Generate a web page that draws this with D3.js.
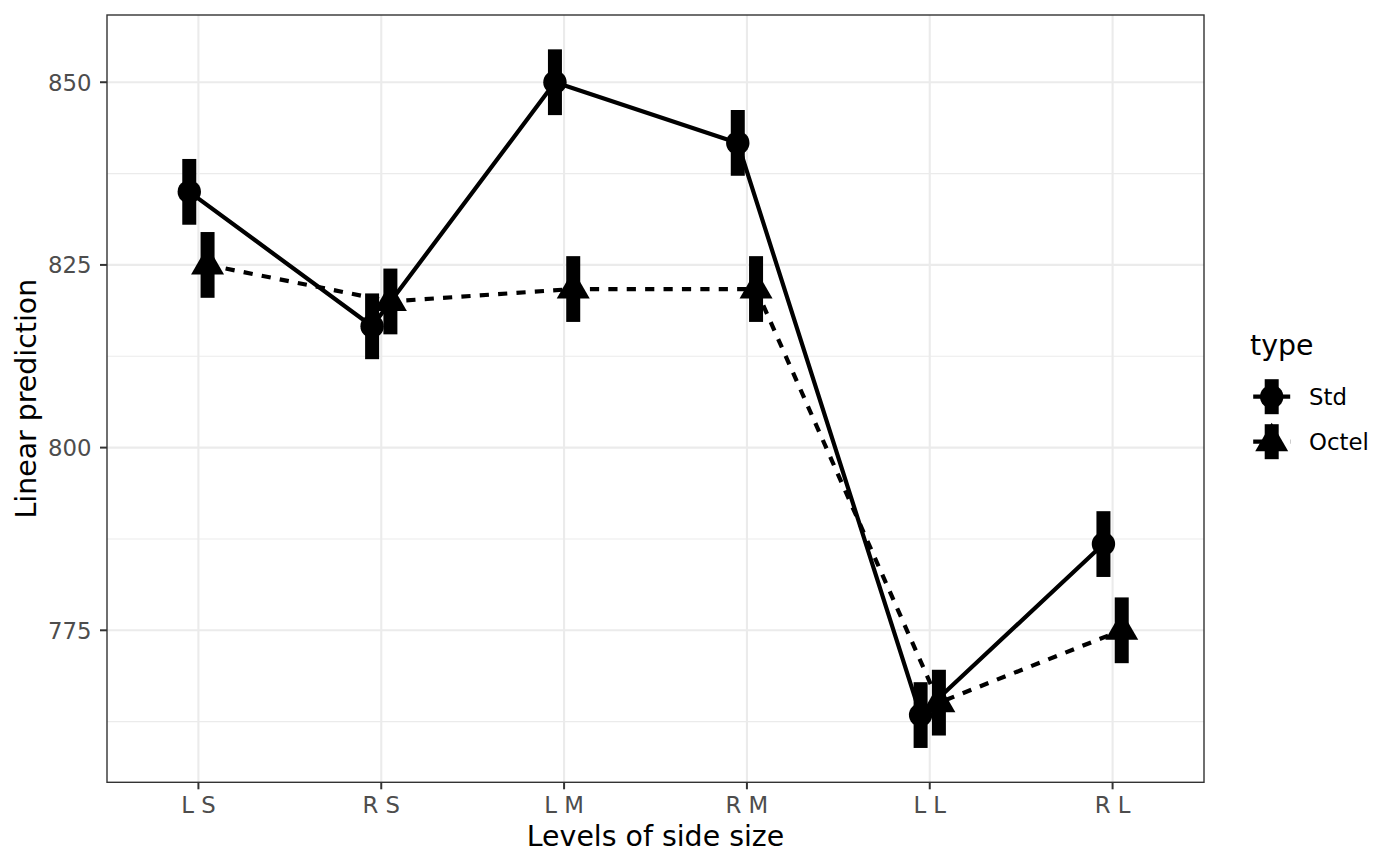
<!DOCTYPE html>
<html>
<head>
<meta charset="utf-8">
<script src="https://cdn.jsdelivr.net/npm/d3@7"></script>
<style>
  html, body { margin: 0; padding: 0; background: #ffffff; }
  svg { display: block; font-family: "DejaVu Sans", sans-serif; }
</style>
</head>
<body>
<svg id="chart" width="1400" height="866"></svg>
<script>
// ---- data ----
const categories = ["L S", "R S", "L M", "R M", "L L", "R L"];
const seriesNames = ["Std", "Octel"];
const stdValues   = [835.0, 816.6, 850.0, 841.7, 763.4, 786.8];
const octelValues = [825.0, 820.0, 821.7, 821.7, 765.1, 775.0];
const stdErr      = [4.5, 4.5, 4.5, 4.5, 4.5, 4.5];
const octelErr    = [4.5, 4.5, 4.5, 4.5, 4.5, 4.5];
const yTicks      = [775, 800, 825, 850];
const yMinorTicks = [762.5, 787.5, 812.5, 837.5];

const series = [
  { name: seriesNames[0], values: stdValues, err: stdErr, shape: "circle", dash: null, dodge: -1 },
  { name: seriesNames[1], values: octelValues, err: octelErr, shape: "triangle", dash: "9.2,9.2", dodge: 1 }
];

// ---- layout ----
const panel = { left: 107, right: 1204, top: 15, bottom: 782.3 };
const svg = d3.select("#chart");

const x = d3.scalePoint().domain(categories).range([panel.left, panel.right]).padding(0.5);
const y = d3.scaleLinear().domain([754.2, 859.2]).range([panel.bottom, panel.top]);
const dodgePx = 0.05 * x.step();

const lineW = 4.2, barW = 14, circR = 11.7, triS = 12.25;
const gridColor = "#ebebeb";

// panel background
svg.append("rect").attr("x", panel.left).attr("y", panel.top)
  .attr("width", panel.right - panel.left).attr("height", panel.bottom - panel.top)
  .attr("fill", "#ffffff");

// grid
const g = svg.append("g");
g.selectAll(".minor").data(yMinorTicks).join("line")
  .attr("x1", panel.left).attr("x2", panel.right)
  .attr("y1", d => y(d)).attr("y2", d => y(d))
  .attr("stroke", gridColor).attr("stroke-width", 1.1);
g.selectAll(".majorY").data(yTicks).join("line")
  .attr("x1", panel.left).attr("x2", panel.right)
  .attr("y1", d => y(d)).attr("y2", d => y(d))
  .attr("stroke", gridColor).attr("stroke-width", 2.1);
g.selectAll(".majorX").data(categories).join("line")
  .attr("x1", d => x(d)).attr("x2", d => x(d))
  .attr("y1", panel.top).attr("y2", panel.bottom)
  .attr("stroke", gridColor).attr("stroke-width", 2.1);

// shapes
function trianglePath(cx, cy, s) {
  const r = 1.5551 * s, xc = 1.3468 * s, yc = 0.7776 * s;
  return `M${cx},${cy - r}L${cx + xc},${cy + yc}L${cx - xc},${cy + yc}Z`;
}

const marks = svg.append("g");
series.forEach(s => {
  const xs = i => x(categories[i]) + s.dodge * dodgePx;
  const line = d3.line().x((d, i) => xs(i)).y(d => y(d));
  marks.append("path").datum(s.values)
    .attr("d", line).attr("fill", "none").attr("stroke", "#000")
    .attr("stroke-width", lineW).attr("stroke-dasharray", s.dash)
    .attr("stroke-linejoin", "round");
});
series.forEach(s => {
  const xs = i => x(categories[i]) + s.dodge * dodgePx;
  s.values.forEach((v, i) => {
    if (s.shape === "circle") {
      marks.append("circle").attr("cx", xs(i)).attr("cy", y(v)).attr("r", circR).attr("fill", "#000");
    } else {
      marks.append("path").attr("d", trianglePath(xs(i), y(v), triS)).attr("fill", "#000");
    }
    marks.append("rect")
      .attr("x", xs(i) - barW / 2).attr("width", barW)
      .attr("y", y(v + s.err[i])).attr("height", y(v - s.err[i]) - y(v + s.err[i]))
      .attr("fill", "#000");
  });
});

// panel border
svg.append("rect").attr("x", panel.left).attr("y", panel.top)
  .attr("width", panel.right - panel.left).attr("height", panel.bottom - panel.top)
  .attr("fill", "none").attr("stroke", "#333333").attr("stroke-width", 1.4);

// axes
const axisG = svg.append("g");
const tickLen = 7;
yTicks.forEach(t => {
  axisG.append("line").attr("x1", panel.left - tickLen).attr("x2", panel.left)
    .attr("y1", y(t)).attr("y2", y(t)).attr("stroke", "#333333").attr("stroke-width", 2);
  axisG.append("text").attr("x", panel.left - 15.5).attr("y", y(t) + 8.3)
    .attr("text-anchor", "end").attr("fill", "#4d4d4d").attr("font-size", 22.8).text(t);
});
categories.forEach(c => {
  axisG.append("line").attr("x1", x(c)).attr("x2", x(c))
    .attr("y1", panel.bottom).attr("y2", panel.bottom + tickLen).attr("stroke", "#333333").attr("stroke-width", 2);
  axisG.append("text").attr("x", x(c)).attr("y", 813.3)
    .attr("text-anchor", "middle").attr("fill", "#4d4d4d").attr("font-size", 22.8).text(c);
});

// axis titles
svg.append("text").attr("x", (panel.left + panel.right) / 2).attr("y", 845.7)
  .attr("text-anchor", "middle").attr("font-size", 28.4).attr("fill", "#000").text("Levels of side size");
svg.append("text").attr("transform", `translate(36,${(panel.top + panel.bottom) / 2}) rotate(-90)`)
  .attr("text-anchor", "middle").attr("font-size", 28.4).attr("fill", "#000").text("Linear prediction");

// legend
const leg = svg.append("g");
leg.append("text").attr("x", 1250).attr("y", 355).attr("font-size", 28.4).attr("fill", "#000").text("type");
const keyX = 1271.7, keyY0 = 396.7, keyStep = 45;
series.forEach((s, k) => {
  const cy = keyY0 + k * keyStep;
  leg.append("line").attr("x1", keyX - 18.5).attr("x2", keyX + 18.5)
    .attr("y1", cy).attr("y2", cy).attr("stroke", "#000").attr("stroke-width", lineW)
    .attr("stroke-dasharray", s.dash);
  if (s.shape === "circle") {
    leg.append("circle").attr("cx", keyX).attr("cy", cy).attr("r", circR).attr("fill", "#000");
  } else {
    leg.append("path").attr("d", trianglePath(keyX, cy, triS)).attr("fill", "#000");
  }
  leg.append("rect").attr("x", keyX - barW / 2).attr("width", barW)
    .attr("y", cy - 17.5).attr("height", 35).attr("fill", "#000");
  leg.append("text").attr("x", 1309).attr("y", cy + 8.3).attr("font-size", 22.8).attr("fill", "#000").text(s.name);
});
</script>
</body>
</html>
